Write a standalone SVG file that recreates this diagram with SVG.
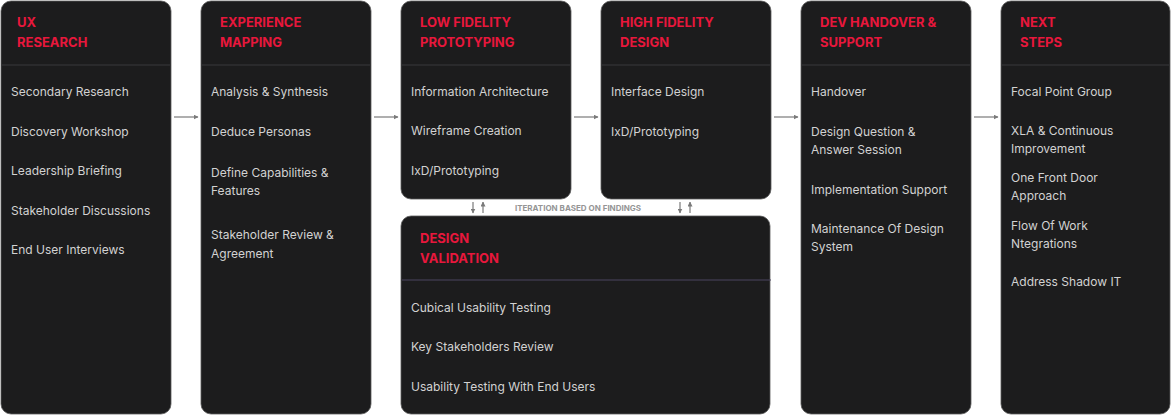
<svg xmlns="http://www.w3.org/2000/svg" width="1171" height="415" viewBox="0 0 1171 415">
<style>
.box{fill:#1c1c1d;stroke:#5a5a5a;stroke-width:0.8}
.div{stroke:#38383c;stroke-width:1.2}
.divp{stroke:#4a4560;stroke-width:1.2}
.t{font-family:Inter,"Noto Sans",sans-serif;font-weight:700;font-size:13px;fill:#e8173c}
.b{font-family:Inter,"Noto Sans",sans-serif;font-size:12px;fill:#d2d2d2}
.c{stroke:#7a7a7a;stroke-width:1.2;fill:none}
.lbl{font-family:Inter,"Noto Sans",sans-serif;font-weight:700;font-size:8px;fill:#959595}
</style>
<defs>
<marker id="ah" viewBox="0 0 10 10" refX="9" refY="5" markerWidth="5" markerHeight="5" orient="auto-start-reverse" markerUnits="userSpaceOnUse">
<path d="M0,0 L10,5 L0,10 z" fill="#7a7a7a"/>
</marker>
</defs>
<rect width="1171" height="415" fill="#ffffff"/>
<g id="connectors">
<line class="c" x1="174" y1="117" x2="198" y2="117" marker-end="url(#ah)"/>
<line class="c" x1="374" y1="117" x2="398" y2="117" marker-end="url(#ah)"/>
<line class="c" x1="574" y1="117" x2="598" y2="117" marker-end="url(#ah)"/>
<line class="c" x1="774" y1="117" x2="798" y2="117" marker-end="url(#ah)"/>
<line class="c" x1="974" y1="117" x2="998" y2="117" marker-end="url(#ah)"/>
<line class="c" x1="473" y1="202" x2="473" y2="213" marker-end="url(#ah)"/>
<line class="c" x1="483" y1="213" x2="483" y2="202" marker-end="url(#ah)"/>
<line class="c" x1="680" y1="202" x2="680" y2="213" marker-end="url(#ah)"/>
<line class="c" x1="690" y1="213" x2="690" y2="202" marker-end="url(#ah)"/>
<text class="lbl" x="578" y="211" text-anchor="middle">ITERATION BASED ON FINDINGS</text>
</g>
<g id="ux-research">
<rect class="box" x="1" y="1" width="170" height="413" rx="10"/>
<line class="div" x1="2" y1="65" x2="170" y2="65"/>
<text class="t" x="17" y="27">UX</text>
<text class="t" x="17" y="47">RESEARCH</text>
<text class="b" x="11" y="96">Secondary Research</text>
<text class="b" x="11" y="136">Discovery Workshop</text>
<text class="b" x="11" y="175">Leadership Briefing</text>
<text class="b" x="11" y="215">Stakeholder Discussions</text>
<text class="b" x="11" y="254">End User Interviews</text>
</g>
<g id="experience-mapping">
<rect class="box" x="201" y="1" width="170" height="413" rx="10"/>
<line class="div" x1="202" y1="65" x2="370" y2="65"/>
<text class="t" x="220" y="27">EXPERIENCE</text>
<text class="t" x="220" y="47">MAPPING</text>
<text class="b" x="211" y="96">Analysis &amp; Synthesis</text>
<text class="b" x="211" y="136">Deduce Personas</text>
<text class="b" x="211" y="177">Define Capabilities &amp;</text>
<text class="b" x="211" y="195">Features</text>
<text class="b" x="211" y="239">Stakeholder Review &amp;</text>
<text class="b" x="211" y="258">Agreement</text>
</g>
<g id="low-fidelity">
<rect class="box" x="401" y="1" width="170" height="198" rx="10"/>
<line class="div" x1="402" y1="65" x2="570" y2="65"/>
<text class="t" x="420" y="27">LOW FIDELITY</text>
<text class="t" x="420" y="47">PROTOTYPING</text>
<text class="b" x="411" y="96">Information Architecture</text>
<text class="b" x="411" y="135">Wireframe Creation</text>
<text class="b" x="411" y="175">IxD/Prototyping</text>
</g>
<g id="high-fidelity">
<rect class="box" x="601" y="1" width="170" height="198" rx="10"/>
<line class="div" x1="602" y1="65" x2="770" y2="65"/>
<text class="t" x="620" y="27">HIGH FIDELITY</text>
<text class="t" x="620" y="47">DESIGN</text>
<text class="b" x="611" y="96">Interface Design</text>
<text class="b" x="611" y="136">IxD/Prototyping</text>
</g>
<g id="design-validation">
<rect class="box" x="401" y="216" width="369" height="198" rx="10"/>
<line class="divp" x1="402" y1="280" x2="771" y2="280"/>
<text class="t" x="420" y="243">DESIGN</text>
<text class="t" x="420" y="263">VALIDATION</text>
<text class="b" x="411" y="312">Cubical Usability Testing</text>
<text class="b" x="411" y="351">Key Stakeholders Review</text>
<text class="b" x="411" y="391">Usability Testing With End Users</text>
</g>
<g id="dev-handover">
<rect class="box" x="801" y="1" width="170" height="413" rx="10"/>
<line class="div" x1="802" y1="65" x2="970" y2="65"/>
<text class="t" x="820" y="27">DEV HANDOVER &amp;</text>
<text class="t" x="820" y="47">SUPPORT</text>
<text class="b" x="811" y="96">Handover</text>
<text class="b" x="811" y="136">Design Question &amp;</text>
<text class="b" x="811" y="154">Answer Session</text>
<text class="b" x="811" y="194">Implementation Support</text>
<text class="b" x="811" y="233">Maintenance Of Design</text>
<text class="b" x="811" y="251">System</text>
</g>
<g id="next-steps">
<rect class="box" x="1001" y="1" width="169" height="413" rx="10"/>
<line class="div" x1="1002" y1="65" x2="1169" y2="65"/>
<text class="t" x="1020" y="27">NEXT</text>
<text class="t" x="1020" y="47">STEPS</text>
<text class="b" x="1011" y="96">Focal Point Group</text>
<text class="b" x="1011" y="135">XLA &amp; Continuous</text>
<text class="b" x="1011" y="153">Improvement</text>
<text class="b" x="1011" y="182">One Front Door</text>
<text class="b" x="1011" y="200">Approach</text>
<text class="b" x="1011" y="230">Flow Of Work</text>
<text class="b" x="1011" y="248">Ntegrations</text>
<text class="b" x="1011" y="286">Address Shadow IT</text>
</g>
</svg>
